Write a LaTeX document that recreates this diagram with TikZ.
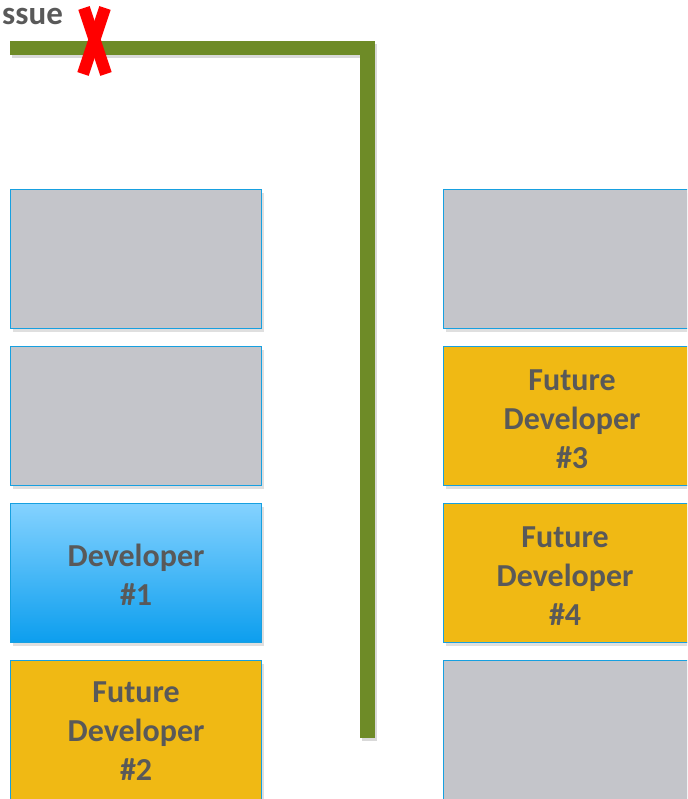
\documentclass[tikz,border=0pt]{standalone}
\usepackage{fontspec}
\setmainfont{Carlito}
\usetikzlibrary{shadows}
\definecolor{boxgray}{HTML}{C4C5CA}
\definecolor{boxline}{HTML}{17A0E0}
\definecolor{boxyellow}{HTML}{F0B914}
\definecolor{bluetop}{HTML}{84D2FF}
\definecolor{bluebot}{HTML}{0C9EEE}
\definecolor{txtgray}{HTML}{595959}
\definecolor{barGreen}{HTML}{6E8B27}
\definecolor{xred}{HTML}{FF0000}
\tikzset{
  slot/.style={rectangle, draw=boxline, line width=1.2pt, minimum width=251pt, minimum height=139pt,
    anchor=north west, inner sep=0pt,
    drop shadow={opacity=0.25, shadow xshift=2pt, shadow yshift=-3pt}},
  emptyslot/.style={slot, fill=boxgray},
  futureslot/.style={slot, fill=boxyellow},
  devslot/.style={slot, top color=bluetop, bottom color=bluebot},
  slottext/.style={align=center, text=txtgray, inner sep=0pt,
    font=\bfseries\fontsize{32}{39}\selectfont},
  bar/.style={fill=barGreen, drop shadow={opacity=0.3, shadow xshift=2pt, shadow yshift=-3pt}},
  cross/.style={draw=xred, line width=12pt},
  title/.style={anchor=base west, inner sep=0pt, text height=17pt, text depth=0pt,
    text=txtgray, font=\bfseries\fontsize{33}{38}\selectfont}
}
\begin{document}
\begin{tikzpicture}[x=1pt,y=-1pt]
\useasboundingbox (0,0) rectangle (687,799);
\clip (0,0) rectangle (687,799);
% title
\node[title] (issue) at (2,25) {ssue};
% green bar
\fill[bar] (10,41) rectangle (367,55);
\fill[bar] (360,41) rectangle (375,738);
% red cross
\draw[cross] (84,8) -- (106,74);
\draw[cross] (105,8) -- (83,74);
% left column
\node[emptyslot]  (l1) at (10,189) {};
\node[emptyslot]  (l2) at (10,346) {};
\node[devslot]    (l3) at (10,503) {};
\node[futureslot] (l4) at (10,660) {};
% right column
\node[emptyslot]  (r1) at (443,189) {};
\node[futureslot] (r2) at (443,346) {};
\node[futureslot] (r3) at (443,503) {};
\node[emptyslot]  (r4) at (443,660) {};
% texts
\node[slottext] (t1) at ([yshift=-5pt]l3.center) {\strut Developer\\\strut\#1};
\node[slottext] (t2) at ([yshift=-4pt]l4.center) {\strut Future\\\strut Developer\\\strut\#2};
\node[slottext] (t3) at ([xshift=3pt,yshift=-6pt]r2.center) {\strut Future\\\strut Developer\\\strut\#3};
\node[slottext] (t4) at ([xshift=-4pt,yshift=-6pt]r3.center) {\strut Future\\\strut Developer\\\strut\#4};
\end{tikzpicture}
\end{document}
